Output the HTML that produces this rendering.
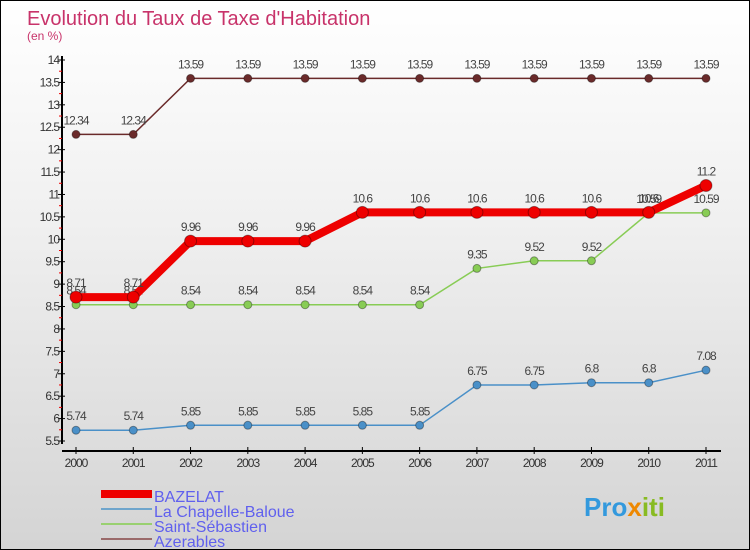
<!DOCTYPE html>
<html><head><meta charset="utf-8"><style>
body{margin:0}
#c{width:750px;height:550px;position:relative;box-sizing:border-box;border:1px solid #000;background:linear-gradient(#fff 0%,#f0f0f0 40%,#d4d4d4 100%);font-family:"Liberation Sans",sans-serif;overflow:hidden}
</style></head><body>
<div id="c">
<svg id="s" width="750" height="550" style="position:absolute;left:0;top:0">
<text x="26" y="24" font-size="20" fill="#c8336a">Evolution du Taux de Taxe d'Habitation</text>
<text x="26" y="39" font-size="12" fill="#c8336a">(en %)</text>
<text x="153" y="501" font-size="16" fill="#6060ee">BAZELAT</text>
<text x="153" y="516" font-size="16" fill="#6060ee">La Chapelle-Baloue</text>
<text x="153" y="531" font-size="16" fill="#6060ee">Saint-Sébastien</text>
<text x="153" y="546" font-size="16" fill="#6060ee">Azerables</text>
<rect x="100" y="489" width="51" height="8" fill="#ee0000"/>
<rect x="100" y="507" width="51" height="2" fill="#6fa5cc"/>
<rect x="100" y="522" width="51" height="2" fill="#99d070"/>
<rect x="100" y="537" width="51" height="2" fill="#9a6a6a"/>
<text x="583" y="515" font-size="26" font-weight="bold" fill="#3399dd">Pro<tspan fill="#ee8800">x</tspan><tspan fill="#88bb22">iti</tspan></text>
</svg>
</div>
<script>
const years=[2000,2001,2002,2003,2004,2005,2006,2007,2008,2009,2010,2011];
const yTicks=[5.5,6,6.5,7,7.5,8,8.5,9,9.5,10,10.5,11,11.5,12,12.5,13,13.5,14];
const bazelat=[8.71,8.71,9.96,9.96,9.96,10.6,10.6,10.6,10.6,10.6,10.6,11.2];
const chapelle=[5.74,5.74,5.85,5.85,5.85,5.85,5.85,6.75,6.75,6.8,6.8,7.08];
const saint=[8.54,8.54,8.54,8.54,8.54,8.54,8.54,9.35,9.52,9.52,10.59,10.59];
const azerables=[12.34,12.34,13.59,13.59,13.59,13.59,13.59,13.59,13.59,13.59,13.59,13.59];
const NS="http://www.w3.org/2000/svg";
const svg=document.getElementById('s');
const X=i=>75+i*(630/11);
const Y=v=>440-(v-5.5)*(381/8.5);
function el(t,a,p){const e=document.createElementNS(NS,t);for(const k in a)e.setAttribute(k,a[k]);(p||svg).appendChild(e);return e;}
function fmt(v){return String(v);}
let ya=el('line',{x1:61,y1:55,x2:61,y2:443,stroke:'#000','stroke-width':2});


let xa=el('line',{x1:61,y1:450,x2:720,y2:450,stroke:'#000','stroke-width':2});


yTicks.forEach((v,i)=>{
 el('line',{x1:57,y1:Y(v),x2:64,y2:Y(v),stroke:'#000'});
 if(i<yTicks.length-1) el('line',{x1:58,y1:Y(v+0.25),x2:61,y2:Y(v+0.25),stroke:'#e00'});
 const t=el('text',{x:58,y:Y(v)+4,'font-size':12,fill:'#333','text-anchor':'end','letter-spacing':'-1'});
 t.textContent=fmt(v);
 
 
});
years.forEach((y,i)=>{
 el('line',{x1:X(i),y1:446,x2:X(i),y2:453,stroke:'#000'});
 const t=el('text',{x:X(i),y:466,'font-size':12,fill:'#333','text-anchor':'middle','letter-spacing':'-1'});
 t.textContent=y;
 
 
});
function series(vals,color,w,r,name){
 const pts=vals.map((v,i)=>X(i)+','+Y(v)).join(' ');
 const p=el('polyline',{points:pts,fill:'none',stroke:color,'stroke-width':w});
 
 
 vals.forEach((v,i)=>{
  const c=el('circle',{cx:X(i),cy:Y(v),r:r,fill:color,stroke:'rgba(0,0,0,0.35)','stroke-width':1});
  
  
  const t=el('text',{x:X(i),y:Y(v)-10,'font-size':12,fill:'#444','text-anchor':'middle','letter-spacing':'-1'});
  t.textContent=fmt(v);
  
  
 });
}
series(azerables,'#6a2a2a',1.5,4,'azerables');
series(chapelle,'#4a90c8',1.5,4,'la-chapelle-baloue');
series(saint,'#88cc55',1.5,4,'saint-sebastien');
series(bazelat,'#ee0000',8,6,'bazelat');
</script>
</body></html>
